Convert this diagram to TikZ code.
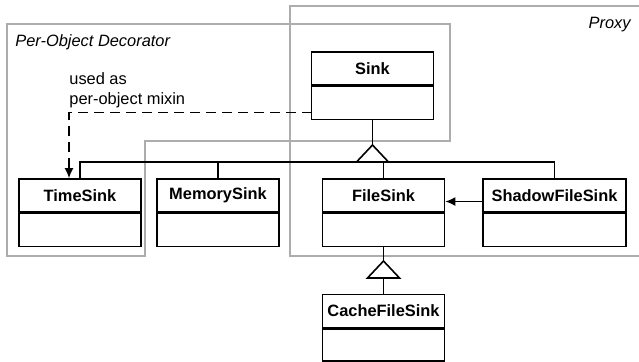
\documentclass[tikz,border=0pt]{standalone}
\usepackage{fontspec}
\setmainfont{Liberation Sans}
\usepackage{tikz}
\usetikzlibrary{arrows.meta, positioning, calc}

\begin{document}
\begin{tikzpicture}[x=0.5pt, y=-0.5pt, font=\fontsize{8.2}{10}\selectfont,
  classname/.style={draw, line width=0.8pt, fill=white, minimum width=61pt, minimum height=16.5pt, inner sep=0pt, font=\fontsize{8.2}{10}\selectfont\bfseries},
  classbody/.style={draw, line width=0.8pt, fill=white, minimum width=61pt, minimum height=16.5pt, inner sep=0pt},
  link/.style={line width=0.8pt},
  region/.style={draw=black!32, line width=1.4pt},
  regionlabel/.style={inner sep=0pt, font=\fontsize{8.2}{10}\selectfont\itshape}]
\useasboundingbox (0,0) rectangle (639,361);

% Pattern regions
\draw[region] (639,6) -- (290,6) -- (290,256) -- (639,256);
\draw[region] (7,24) -- (450,24) -- (450,141) -- (145,141) -- (145,256) -- (7,256) -- cycle;
\node[regionlabel, anchor=west] (decolabel) at (15,42) {Per-Object Decorator};
\node[regionlabel, anchor=east] (proxylabel) at (631,25) {Proxy};

% Classes
\node[classname] (sink) at (372.5,68.5) {Sink};
\node[classbody, below=0pt of sink] (sinkbody) {};
\node[classname] (timesink) at (80,195.5) {TimeSink};
\node[classbody, below=0pt of timesink] (timesinkbody) {};
\node[classname] (memsink) at (218,195.5) {MemorySink};
\node[classbody, below=0pt of memsink] (memsinkbody) {};
\node[classname] (filesink) at (383.5,195.5) {FileSink};
\node[classbody, below=0pt of filesink] (filesinkbody) {};
\node[classname, minimum width=71.5pt] (shadowsink) at (554.5,195.5) {ShadowFileSink};
\node[classbody, minimum width=71.5pt, below=0pt of shadowsink] (shadowsinkbody) {};
\node[classname] (cachesink) at (383.5,311) {CacheFileSink};
\node[classbody, below=0pt of cachesink, minimum height=16pt] (cachesinkbody) {};

% Inheritance from Sink
\coordinate (bus) at (372.5,162);
\draw[link] (timesink.north) |- (shadowsink.north |- bus) -- (shadowsink.north);
\draw[link] (memsink.north) -- (memsink.north |- bus);
\draw[link] (filesink.north) -- (filesink.north |- bus);
\draw[link] (sinkbody.south) -- ($(bus)+(0,-17)$);
\draw[link, fill=white] ($(bus)+(-16,0)$) -- ($(bus)+(0,-17)$) -- ($(bus)+(16,0)$) -- cycle;

% Inheritance from FileSink
\coordinate (bus2) at (383.5,278);
\draw[link] (filesinkbody.south) -- ($(bus2)+(0,-17)$);
\draw[link] (bus2) -- (cachesink.north);
\draw[link, fill=white] ($(bus2)+(-16,0)$) -- ($(bus2)+(0,-17)$) -- ($(bus2)+(16,0)$) -- cycle;

% Delegation
\draw[link, -{Latex[length=5pt, width=4.5pt]}] ($(shadowsink.west)+(0,6)$) -- ($(filesink.east)+(0,6)$);

% Mixin use
\coordinate (mixin) at (312,112.5);
\coordinate (bend) at (69,112.5);
\draw[link, dash pattern=on 5pt off 3pt] (mixin) -- (bend) -- ($(bend |- timesink.north)+(0,-8)$);
\draw[link, -{Latex[length=5pt, width=4.5pt]}] ($(bend |- timesink.north)+(0,-9)$) -- (bend |- timesink.north);
\node[anchor=south west, align=left, inner sep=0pt] (mixinlabel) at (69,108.5) {used as\\per-object mixin};
\end{tikzpicture}
\end{document}
